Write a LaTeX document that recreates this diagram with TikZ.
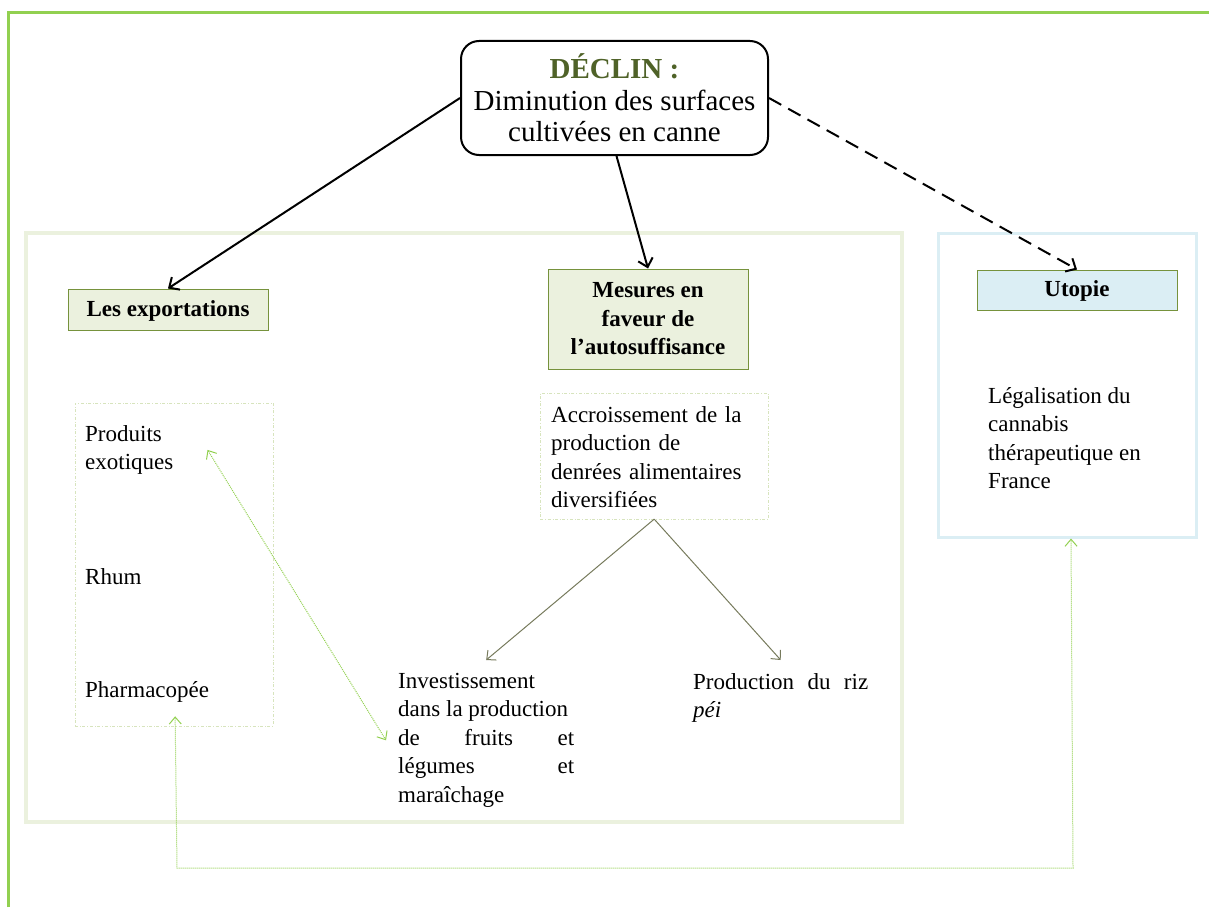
\documentclass[tikz,border=0pt]{standalone}
\usepackage{fontspec}
\setmainfont{Liberation Serif}
\usetikzlibrary{arrows.meta}
\definecolor{olivedark}{HTML}{4F6228}
\definecolor{oliveline}{HTML}{76923C}
\definecolor{olivefill}{HTML}{EBF1DE}
\definecolor{bluefill}{HTML}{DBEEF4}
\definecolor{brightgreen}{HTML}{92D050}
\definecolor{palegreen}{HTML}{D7E4BD}
\definecolor{greyolive}{HTML}{767A5C}
\begin{document}
\begin{tikzpicture}[x=1pt,y=-1pt,
    every node/.style={font=\fontsize{23}{28.5}\selectfont,inner sep=0pt},
    txt/.style={anchor=north west,align=left},
    head/.style={draw=oliveline,fill=olivefill,line width=1pt,minimum width=200pt,
      align=center,font=\fontsize{23}{28.5}\selectfont\bfseries},
    bigarrow/.style={line width=2pt,-{Straight Barb[length=8pt,width=15pt]}},
    smallarrow/.style={greyolive,line width=1pt,-{Straight Barb[length=7pt,width=13pt]}},
    greenarrow/.style={brightgreen,line width=1pt,densely dotted,
      {Straight Barb[length=7pt,width=12pt]}-{Straight Barb[length=7pt,width=12pt]}}]
  \useasboundingbox (0,0) rectangle (1209,907);
  % frames
  \draw[brightgreen,line width=3pt] (8,907) -- (8,13) -- (1209,13);
  \draw[olivefill,line width=4pt] (26,233) rectangle (902,822);
  \node[draw=bluefill,line width=3pt,minimum width=258pt,minimum height=304pt] (utobox) at (1067,385) {};
  \node[draw=palegreen,dash dot,thin,minimum width=198pt,minimum height=323pt] (exbox) at (174,564.5) {};

  \node[draw,line width=2pt,rounded corners=18pt,minimum width=307pt,minimum height=114pt,
    align=center,font=\fontsize{29}{31.5}\selectfont] (decl) at (614.5,98)
    {\textcolor{olivedark}{\textbf{DÉCLIN :}}\\Diminution des surfaces\\cultivées en canne};
  \node[head,minimum height=41pt,text depth=2pt] (expo) at (168,309.5) {Les exportations};
  \node[head,minimum height=100pt] (mesures) at (648,319) {Mesures en\\faveur de\\l’autosuffisance};
  \node[head,fill=bluefill,minimum height=40pt,text depth=2pt] (utopie) at (1077,290) {Utopie};

  \node[txt] (prodexo) at (85,425) {Produits\\exotiques};
  \node[txt] (rhum) at (85,568) {Rhum};
  \node[txt] (pharma) at (85,681) {Pharmacopée};
  \node[draw=palegreen,dash dot,thin,inner sep=11pt,text width=206pt,align=left,anchor=north west] (accr)
    at (540,393) {\rule{0pt}{18pt}Accroissement de la\\production de\\denrées alimentaires\\diversifiées};
  \node[txt] (invest) at (398,673) {Investissement\\dans la production\\\makebox[176pt][s]{de fruits et}\\\makebox[176pt][s]{légumes et}\\maraîchage};
  \node[txt] (riz) at (693,673) {\makebox[175pt][s]{Production du riz}\\\textit{péi}};
  \node[txt] (legal) at (988,387) {Légalisation du\\cannabis\\thérapeutique en\\France};

  \draw[bigarrow] (decl.west) -- (expo.north);
  \draw[bigarrow] ([xshift=2pt]decl.south) -- (mesures.north);
  \draw[bigarrow,dash pattern=on 14pt off 8pt] (decl.east) -- (utopie.north);
  \draw[smallarrow] (accr.south) -- ([yshift=13pt]invest.north);
  \draw[smallarrow] (accr.south) -- ([yshift=13pt]riz.north);
  \draw[greenarrow] ([xshift=34pt]prodexo.east) -- ([xshift=-12pt]invest.west);
  \coordinate (loopL) at (177,868);
  \coordinate (loopR) at (1073,868);
  \draw[greenarrow] ([xshift=28pt,yshift=-14pt]pharma.south) -- (loopL) -- (loopR) -- ([xshift=4pt]utobox.south);
\end{tikzpicture}
\end{document}
